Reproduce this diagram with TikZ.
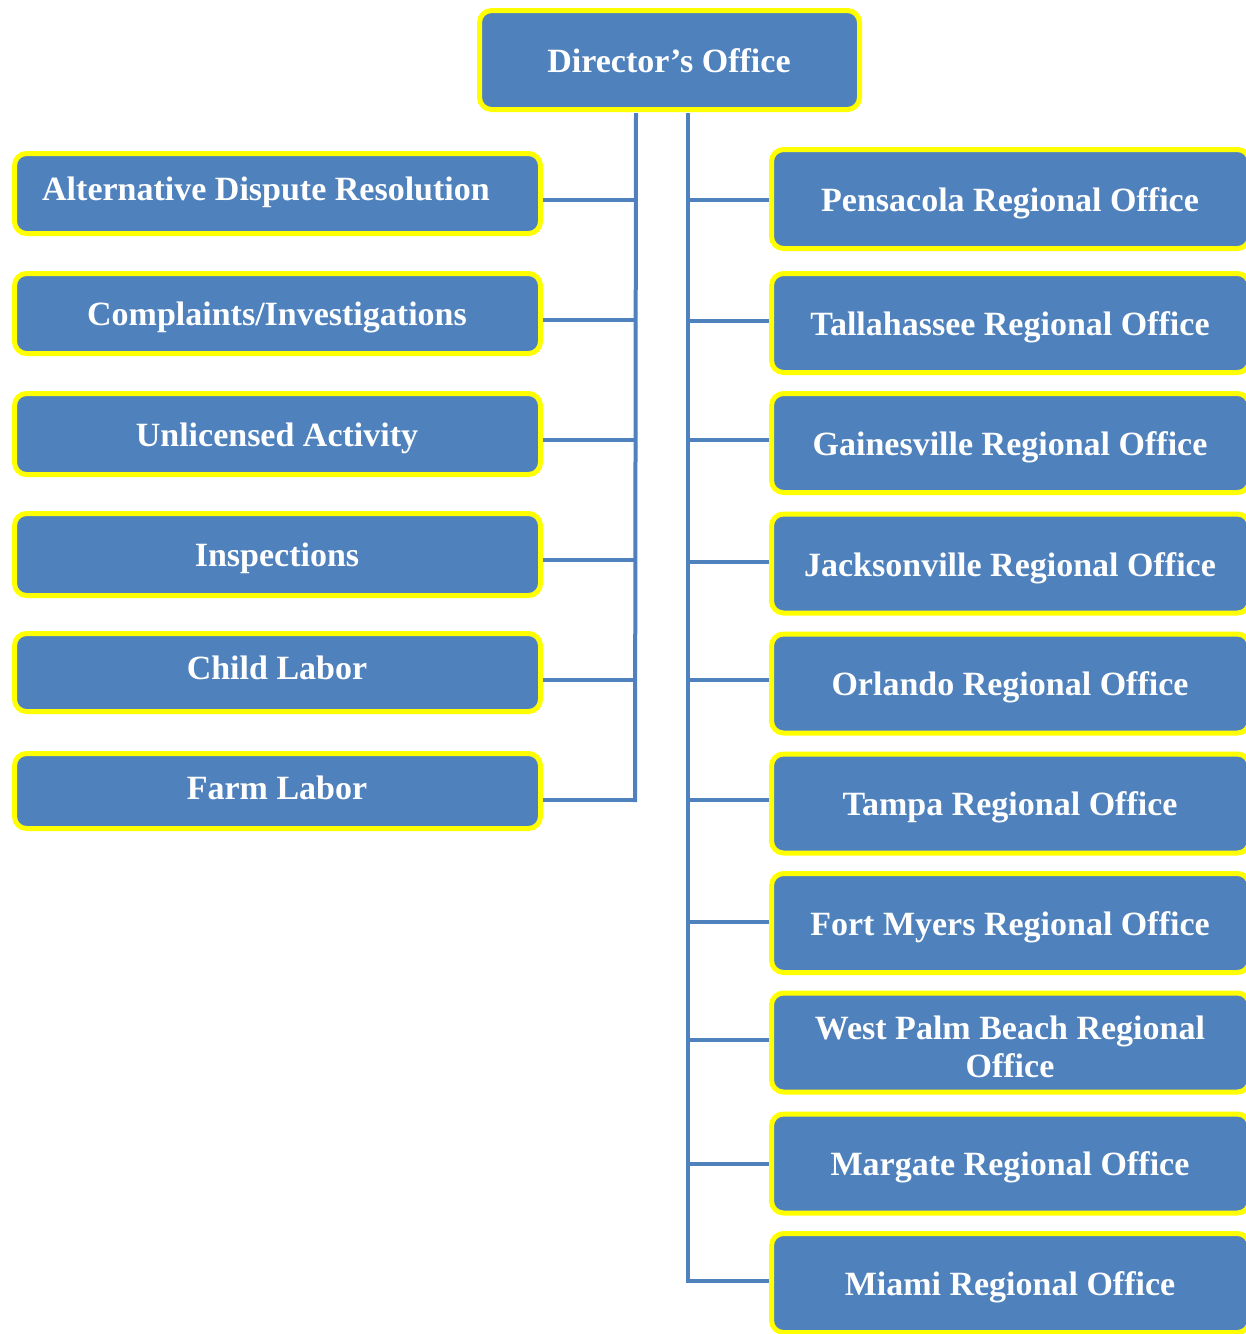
\documentclass[tikz,border=0pt]{standalone}
\usepackage{fontspec}
\setmainfont{Liberation Serif}
\definecolor{boxblue}{HTML}{4F81BD}
\definecolor{boxyellow}{HTML}{FFFF00}
\begin{document}
\begin{tikzpicture}[x=1pt,y=-1pt,
  box/.style={draw=boxyellow, line width=5pt, fill=boxblue, rounded corners=12pt, inner sep=0pt},
  txt/.style={text=white, font=\fontsize{34}{38}\selectfont\bfseries, inner sep=0pt},
  conn/.style={draw=boxblue, line width=4pt}]
\useasboundingbox (0,0) rectangle (1246,1334);
% director
\node[box, minimum width=380pt, minimum height=99pt] (dir) at (669.5,60) {};
\node[txt, anchor=base] (dirt) at (669,72) {Director’s Office};
% left boxes
\foreach \n/\c/\h in {l1/193.5/80, l2/313.5/80, l3/434/81, l4/554.5/82, l5/672.5/78, l6/791/75}
  \node[box, minimum width=526pt, minimum height=\h pt] (\n) at (277.5,\c) {};
\node[txt, anchor=base] (l1t) at (266,200) {Alternative Dispute Resolution};
\node[txt, anchor=base] (l2t) at (277,325) {Complaints/Investigations};
\node[txt, anchor=base] (l3t) at (277,446) {Unlicensed Activity};
\node[txt, anchor=base] (l4t) at (277,566) {Inspections};
\node[txt, anchor=base] (l5t) at (277,679) {Child Labor};
\node[txt, anchor=base] (l6t) at (277,799) {Farm Labor};
% right boxes
\foreach \n/\c in {r1/199, r2/323, r3/443, r4/563.5, r5/683.5, r6/803.5, r7/923, r8/1042.5, r9/1163.5, r10/1283}
  \node[box, minimum width=478pt, minimum height=99pt] (\n) at (1010.5,\c) {};
\node[txt, anchor=base] (r1t) at (1010,211) {Pensacola Regional Office};
\node[txt, anchor=base] (r2t) at (1010,335) {Tallahassee Regional Office};
\node[txt, anchor=base] (r3t) at (1010,455) {Gainesville Regional Office};
\node[txt, anchor=base] (r4t) at (1010,576) {Jacksonville Regional Office};
\node[txt, anchor=base] (r5t) at (1010,695) {Orlando Regional Office};
\node[txt, anchor=base] (r6t) at (1010,815) {Tampa Regional Office};
\node[txt, anchor=base] (r7t) at (1010,935) {Fort Myers Regional Office};
\node[txt, align=center] (r8t) at (1010,1047) {West Palm Beach Regional\\Office};
\node[txt, anchor=base] (r9t) at (1010,1175) {Margate Regional Office};
\node[txt, anchor=base] (r10t) at (1010,1295) {Miami Regional Office};
% buses
\coordinate (lbtop) at (636,113);
\coordinate (lbbot) at (635,802);
\coordinate (rbtop) at (688,113);
\coordinate (rbbot) at (688,1283);
\draw[conn] (lbtop) -- (lbbot);
\draw[conn] (rbtop) -- (rbbot);
% left connectors
\foreach \n/\y in {l1/200, l2/320, l3/440, l4/560, l5/680, l6/800}{
  \coordinate (\n j) at (635,\y);
  \draw[conn] (\n j) -- (\n j -| \n.east);
}
% right connectors
\foreach \n/\y in {r1/200, r2/321, r3/440, r4/562, r5/680, r6/800, r7/922, r8/1040, r9/1164, r10/1281}{
  \coordinate (\n j) at (688,\y);
  \draw[conn] (\n j) -- (\n j -| \n.west);
}
\end{tikzpicture}
\end{document}
